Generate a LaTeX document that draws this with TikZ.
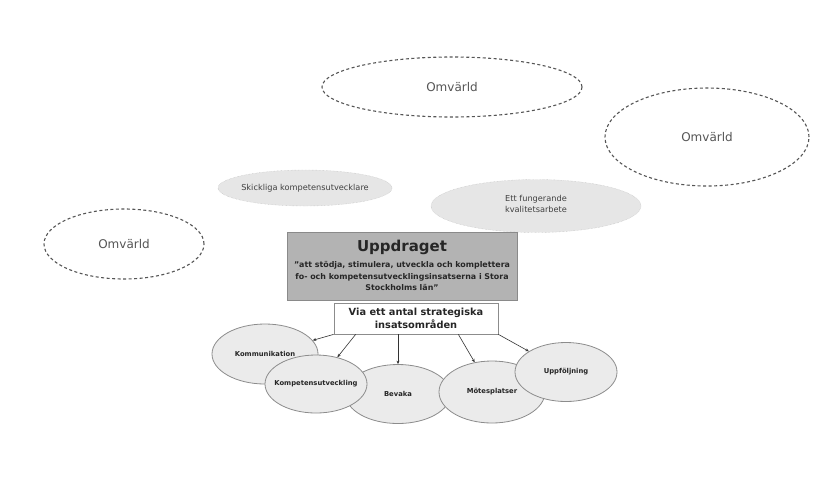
\documentclass[tikz,border=0pt]{standalone}
\usepackage{fontspec}
\setmainfont{DejaVu Sans}
\usetikzlibrary{shapes.geometric,arrows.meta}
\definecolor{omline}{HTML}{555555}
\definecolor{midfill}{HTML}{E6E6E6}
\definecolor{midline}{HTML}{B8B8B8}
\definecolor{botfill}{HTML}{EBEBEB}
\definecolor{botline}{HTML}{8C8C8C}
\definecolor{boxfill}{HTML}{B3B3B3}
\definecolor{boxline}{HTML}{8A8A8A}
\begin{document}
\begin{tikzpicture}[x=1pt,y=-1pt,
  omv/.style={ellipse,draw=omline,dashed,line width=1.1pt,dash pattern=on 3pt off 2.5pt,font=\fontsize{12}{13}\selectfont,text=omline,inner sep=0pt},
  midell/.style={ellipse,draw=midline,densely dotted,fill=midfill,inner sep=0pt},
  midlab/.style={font=\fontsize{8.2}{11.5}\selectfont,text=black!75,align=center,inner sep=0pt},
  botell/.style={ellipse,draw=botline,line width=0.8pt,fill=botfill,inner sep=0pt},
  botlab/.style={font=\bfseries\fontsize{6.8}{8}\selectfont,text=black!85,inner sep=0pt},
  conn/.style={draw=black!80,line width=0.6pt,-{Stealth[length=3.5pt,width=3pt]}}
]
\useasboundingbox (0,0) rectangle (818,493);
\fill[white] (0,0) rectangle (818,493);

\node[omv,minimum width=260,minimum height=60] (om1) at (452,87) {Omvärld};
\node[omv,minimum width=204,minimum height=98] (om2) at (707,137) {Omvärld};
\node[omv,minimum width=160,minimum height=70] (om3) at (124,244) {Omvärld};

\node[midell,minimum width=174,minimum height=36] (sk) at (305,188) {};
\node[midlab] (skl) at (sk) {Skickliga kompetensutvecklare};
\node[midell,minimum width=210,minimum height=53] (kv) at (536,206) {};
\node[midlab] (kvl) at (536,204) {Ett fungerande\\kvalitetsarbete};

\node[draw=boxline,line width=0.8pt,fill=boxfill,minimum width=230,minimum height=68,inner sep=0pt] (upp) at (402,266) {};
\node[font=\bfseries\fontsize{15}{16}\selectfont,text=black!85] (upt) at (402,247) {Uppdraget};
\node[font=\bfseries\fontsize{7.9}{11.5}\selectfont,text=black!85,align=center,anchor=north] (upq) at (402,258)
  {”att stödja, stimulera, utveckla och komplettera\\fo- och kompetensutvecklingsinsatserna i Stora\\Stockholms län”};

\node[draw=botline,line width=0.7pt,fill=white,minimum width=164,minimum height=31,inner sep=0pt,
  font=\bfseries\fontsize{9.8}{12.5}\selectfont,text=black!85,align=center] (ins) at (416,318.5)
  {Via ett antal strategiska\\insatsområden};

\node[botell,minimum width=106,minimum height=60] (e1) at (265,354) {};
\node[botell,minimum width=105,minimum height=59] (e3) at (398,394) {};
\node[botell,minimum width=102,minimum height=58] (e2) at (316,384) {};
\node[botell,minimum width=106,minimum height=62] (e4) at (492,392) {};
\node[botell,minimum width=102,minimum height=59] (e5) at (566,372) {};

\node[botlab] (l1) at (e1) {Kommunikation};
\node[botlab] (l2) at (e2) {Kompetensutveckling};
\node[botlab] (l3) at (e3) {Bevaka};
\node[botlab] (l4) at (e4) {Mötesplatser};
\node[botlab] (l5) at (e5) {Uppföljning};

\draw[conn] (ins.south west) -- (e1);
\draw[conn] ([xshift=22pt]ins.south west) -- (e2);
\draw[conn] (ins.south -| e3.north) -- (e3.north);
\draw[conn] ([xshift=-40pt]ins.south east) -- (e4);
\draw[conn] (ins.south east) -- (e5);
\end{tikzpicture}
\end{document}
